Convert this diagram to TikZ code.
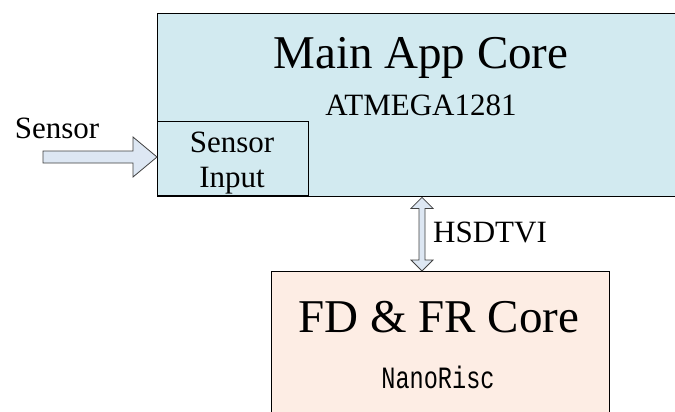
\documentclass[tikz,border=0pt]{standalone}
\usepackage{fontspec}
\newfontfamily\tms{Liberation Serif}
\newfontfamily\cour{Liberation Mono}
\usetikzlibrary{calc,positioning}

\definecolor{mainfill}{RGB}{210,234,240}
\definecolor{fdfill}{RGB}{253,237,228}
\definecolor{arrfill}{RGB}{221,231,243}

\tikzset{
  block/.style={draw=black,line width=1.4pt,inner sep=0pt,anchor=north west},
  arrowshape/.style={draw=black!75,line width=0.8pt,fill=arrfill,line join=miter},
  bigtxt/.style={font=\tms\fontsize{47}{52}\selectfont,anchor=base,inner sep=0pt},
  midtxt/.style={font=\tms\fontsize{31}{36}\selectfont,anchor=base,inner sep=0pt}
}

\begin{document}
\begin{tikzpicture}[x=1pt,y=-1pt]
  \useasboundingbox (0,0) rectangle (675,412);
  \clip (0,0) rectangle (675,412);
  % boxes
  \node[block,fill=mainfill,minimum width=526pt,minimum height=183pt] (main) at (157,13) {};
  \node[block,fill=mainfill,anchor=south west,minimum width=151pt,minimum height=74pt] (sin) at (157,196) {};
  \node[block,fill=fdfill,minimum width=338pt,minimum height=180pt] (fd) at (271,271) {};
  % texts
  \node[bigtxt] (maintxt) at (421,69) {Main App Core};
  \node[midtxt] (atm) at (421,115) {ATMEGA1281};
  \node[midtxt] (sin1) at (232,152) {Sensor};
  \node[midtxt] (sin2) at (232,187) {Input};
  \node[midtxt] (sens) at (57,138) {Sensor};
  \node[midtxt,anchor=base west] (hs) at (433,242) {HSDTVI};
  \node[bigtxt] (fdtxt) at (439,332) {FD \& FR Core};
  \node[font=\cour\fontsize{31}{36}\selectfont,anchor=base,inner sep=0pt] (nano) at (438,388) {\scalebox{0.76}[1]{NanoRisc}};
  % sensor arrow
  \coordinate (tip) at (sin.west |- 0,157);
  \draw[arrowshape] (tip) -- ++(-24,-20) -- ++(0,14) -- ++(-90,0) -- ++(0,12)
    -- ++(90,0) -- ++(0,14) -- cycle;
  % HSDTVI link
  \coordinate (up) at (main.south -| 422,0);
  \coordinate (dn) at (fd.north -| 422,0);
  \draw[arrowshape] (up) -- ($(up)+(11,11)$) -- ($(up)+(3,11)$) -- ($(dn)+(3,-11)$)
    -- ($(dn)+(11,-11)$) -- (dn) -- ($(dn)+(-11,-11)$) -- ($(dn)+(-3,-11)$)
    -- ($(up)+(-3,11)$) -- ($(up)+(-11,11)$) -- cycle;
\end{tikzpicture}
\end{document}
